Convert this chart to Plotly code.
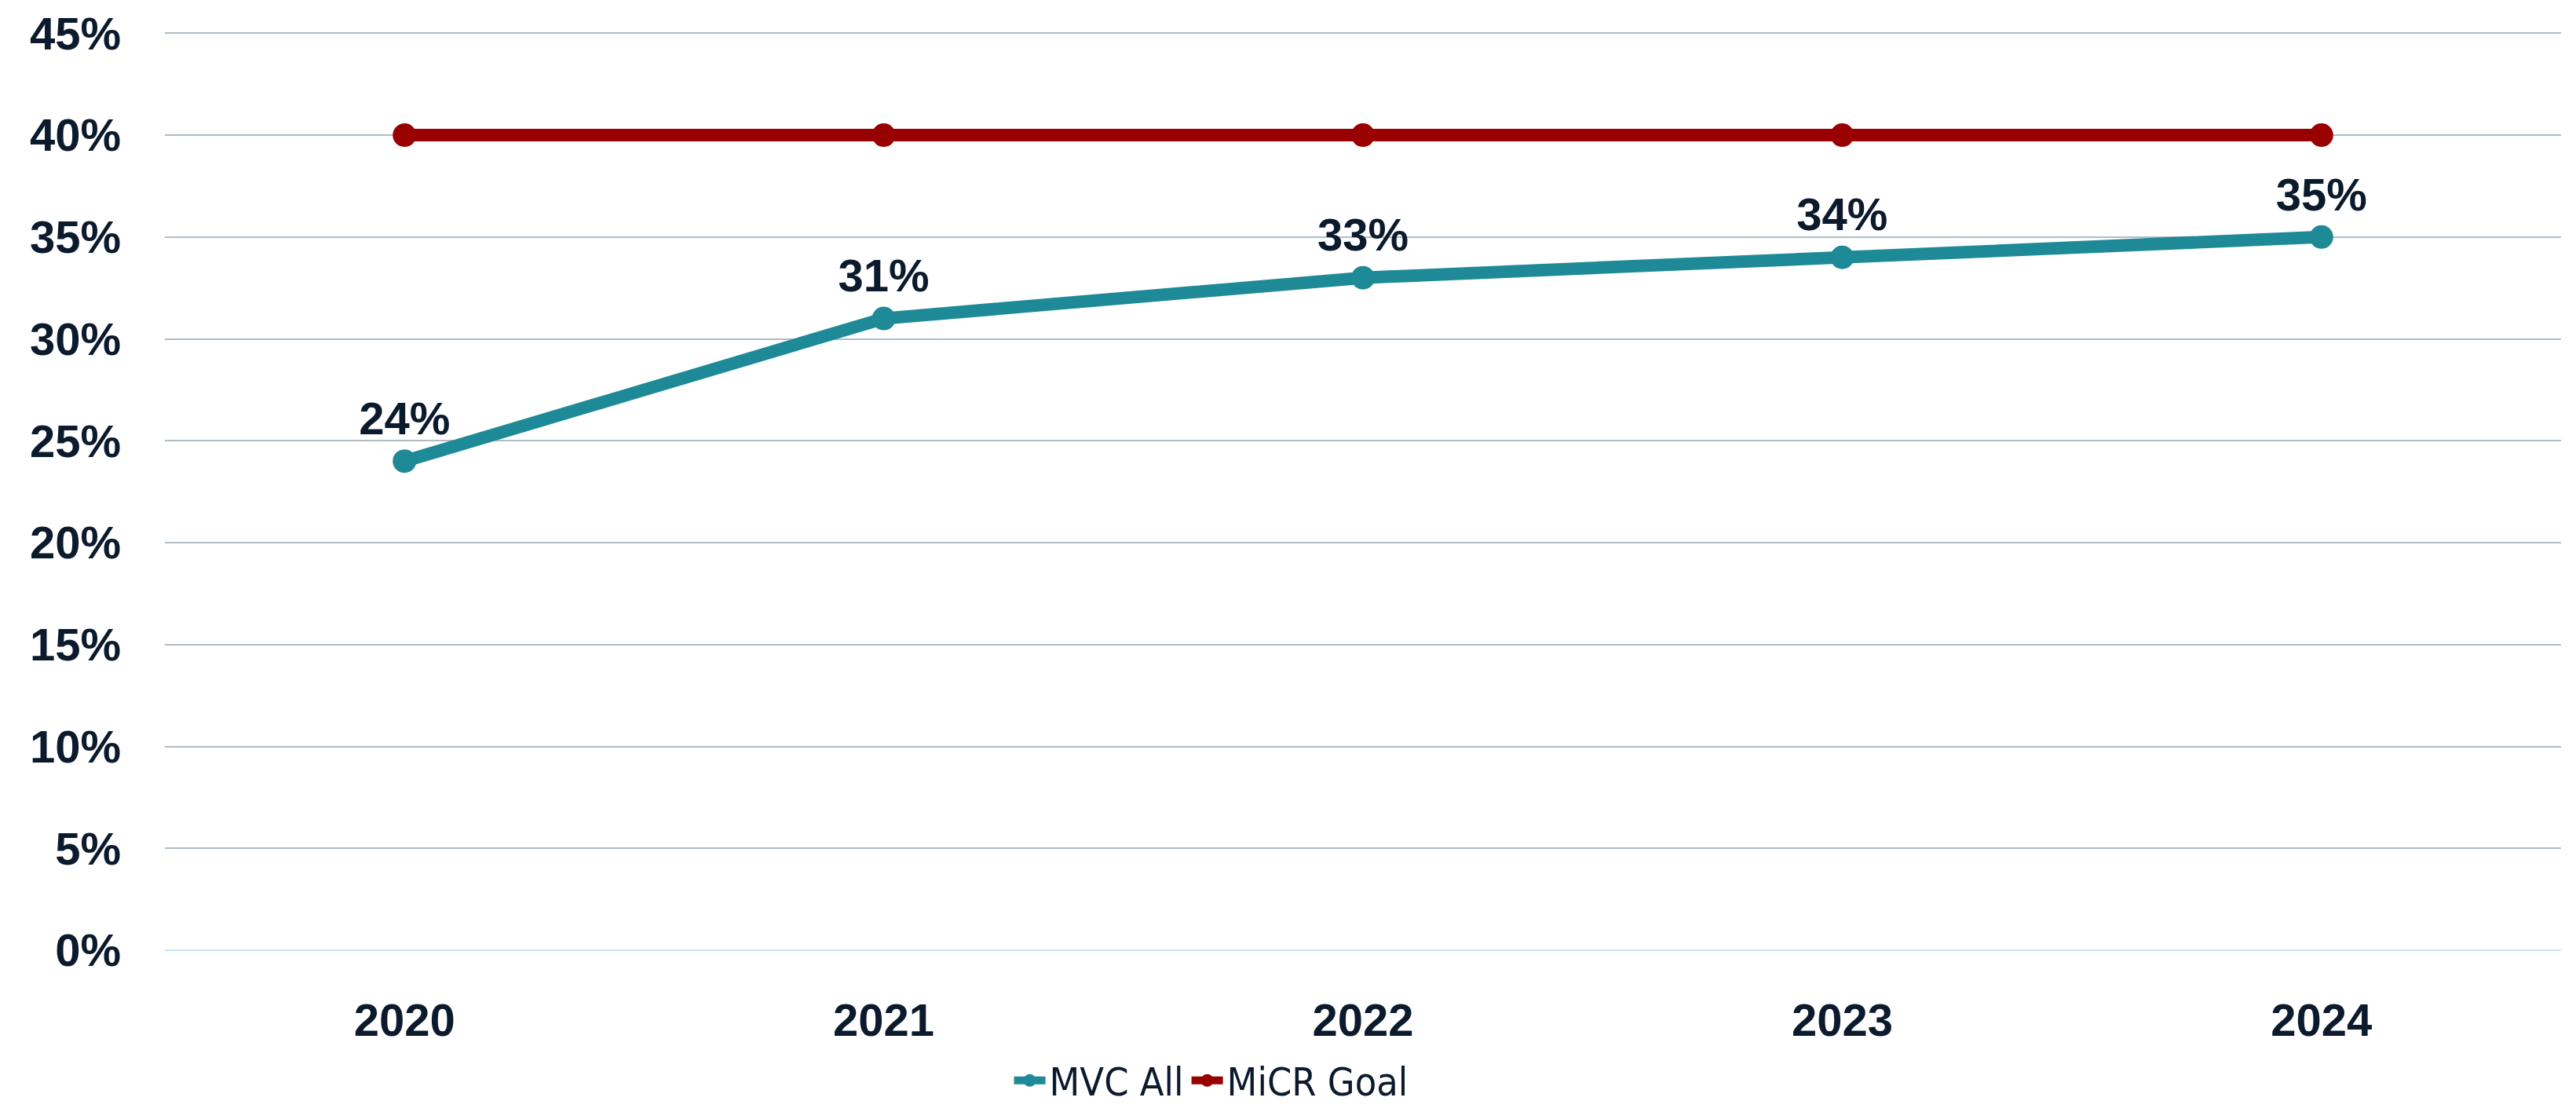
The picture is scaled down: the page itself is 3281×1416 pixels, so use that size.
import plotly.graph_objects as go

years = ['2020', '2021', '2022', '2023', '2024']
mvc_all = [0.24, 0.31, 0.33, 0.34, 0.35]
micr_goal = [0.40, 0.40, 0.40, 0.40, 0.40]
y_ticks = [0, 0.05, 0.10, 0.15, 0.20, 0.25, 0.30, 0.35, 0.40, 0.45]

TEXT = '#0B1A2C'
TEAL = '#1F8A97'
RED = '#990000'
FONT = 'Liberation Sans, Arial, sans-serif'

fig = go.Figure()

fig.add_trace(go.Scatter(
    x=years, y=mvc_all,
    name='MVC All',
    mode='lines+markers+text',
    line=dict(color=TEAL, width=16),
    marker=dict(color=TEAL, size=30),
    text=[f'{v:.0%}' for v in mvc_all],
    textposition='top center',
    textfont=dict(family=FONT, size=58, color=TEXT, weight='bold'),
))

fig.add_trace(go.Scatter(
    x=years, y=micr_goal,
    name='MiCR Goal',
    mode='lines+markers',
    line=dict(color=RED, width=16),
    marker=dict(color=RED, size=30),
))

# page body adds 8px around the figure
fig.update_layout(
    width=3265, height=1400,
    margin=dict(l=202, r=11, t=33, b=198),
    paper_bgcolor='white',
    plot_bgcolor='white',
    font=dict(family=FONT, color=TEXT, size=58),
    showlegend=True,
    legend=dict(
        orientation='h',
        xref='container', yref='container',
        x=0.47, xanchor='center',
        y=0.023, yanchor='middle',
        font=dict(family='DejaVu Sans Condensed, Liberation Sans Narrow, sans-serif', size=50, color=TEXT),
        itemwidth=40,
        tracegroupgap=0,
    ),
    xaxis=dict(
        type='category',
        range=[-0.5, 4.5],
        automargin=False,
        showgrid=False,
        zeroline=False,
        showline=False,
        tickfont=dict(family=FONT, size=58, color=TEXT, weight='bold'),
        ticklabelstandoff=50,
    ),
    yaxis=dict(
        range=[0, 0.4505],
        automargin=False,
        tickvals=y_ticks,
        tickformat='.0%',
        showgrid=True,
        gridcolor='#B0BCC6',
        gridwidth=2,
        zeroline=True,
        zerolinecolor='#C8E2F6',
        zerolinewidth=2,
        showline=False,
        tickfont=dict(family=FONT, size=58, color=TEXT, weight='bold'),
        ticklabelstandoff=55,
    ),
)

fig.write_html('out.html')
